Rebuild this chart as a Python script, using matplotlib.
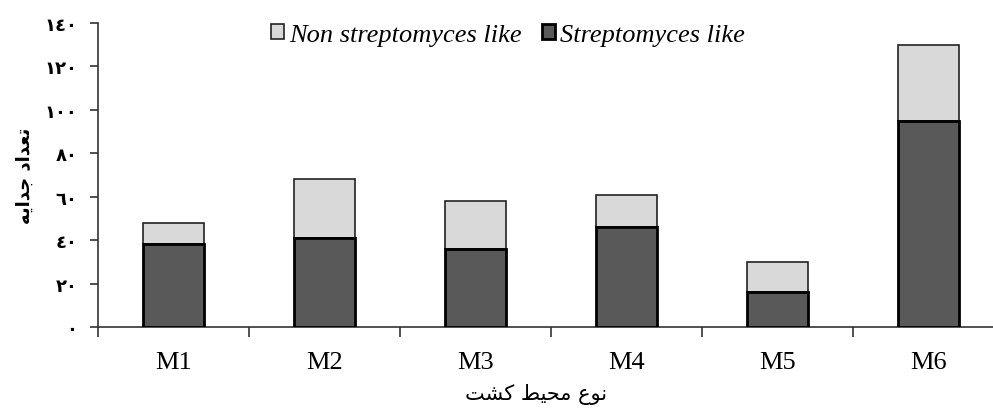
import numpy as np
import matplotlib
matplotlib.use("Agg")
from matplotlib import pyplot as plt

# Datos
categorias = ["M1", "M2", "M3", "M4", "M5", "M6"]
streptomyces = [38, 41, 36, 46, 16, 95]
no_streptomyces = [10, 27, 22, 15, 14, 35]
ticks_y = [0, 20, 40, 60, 80, 100, 120, 140]
etiquetas_y = ["٠", "٢٠", "٤٠", "٦٠", "٨٠", "١٠٠", "١٢٠", "١٤٠"]

# Texto persa en formas de presentacion (matplotlib no une letras arabes)
titulo_y = "\uFEEA\uFEF3\uFE8D\uFEAA\uFE9F \uFEA9\uFE8D\uFEAA\uFECC\uFE97"   # تعداد جدایه
titulo_x = "\uFE96\uFEB8\uFEDB \uFEC2\uFEF4\uFEA4\uFEE3 \uFEC9\uFEEE\uFEE7"  # نوع محیط کشت

fig = plt.figure(figsize=(9.93, 4.14), dpi=100)
ax = fig.add_axes([98 / 993, 1 - 328 / 414, 1 - 98 / 993, (328 - 24) / 414])

x = np.arange(len(categorias))
ancho = 0.40

ax.bar(x, streptomyces, ancho, color="#595959", edgecolor="black", linewidth=2,
       label="Streptomyces like", zorder=3)
ax.bar(x, no_streptomyces, ancho, bottom=streptomyces, color="#d9d9d9",
       edgecolor="#222222", linewidth=1.2, label="Non streptomyces like", zorder=2)

ax.set_xlim(-0.5, -0.5 + (993 - 98) / 151)
ax.set_ylim(0, 140)

for lado in ["top", "right"]:
    ax.spines[lado].set_visible(False)
for lado in ["left", "bottom"]:
    ax.spines[lado].set_color("#333333")
    ax.spines[lado].set_linewidth(1.2)

ax.set_yticks(ticks_y)
ax.set_yticklabels(etiquetas_y, fontsize=13, fontweight="bold", family="DejaVu Sans")
ax.tick_params(axis="y", direction="out", length=6, width=1.2, color="#333333", pad=9)

ax.set_xticks(x)
ax.set_xticklabels(categorias, fontsize=19, family="Liberation Serif")
ax.set_xticks(np.arange(len(categorias)) - 0.5, minor=True)
ax.tick_params(axis="x", which="major", length=0, pad=17)
ax.tick_params(axis="x", which="minor", direction="out", length=7, width=1.2, color="#333333")

fig.text(536 / 993, 1 - 395 / 414, titulo_x, ha="center", va="center", fontsize=15,
         family="DejaVu Sans")
fig.text(25 / 993, 1 - 176 / 414, titulo_y, ha="center", va="center", rotation=90,
         fontsize=13, fontweight="bold", family="DejaVu Sans")

handles, labels = ax.get_legend_handles_labels()
ax.legend(handles[::-1], labels[::-1], loc="center", bbox_to_anchor=(508 / 993, 1 - 36 / 414),
          bbox_transform=fig.transFigure, ncol=2, frameon=False,
          prop={"family": "Liberation Serif", "style": "italic", "size": 19},
          handlelength=0.5, handleheight=0.5, handletextpad=0.2, columnspacing=0.75)

plt.savefig("out.png", dpi=100)
